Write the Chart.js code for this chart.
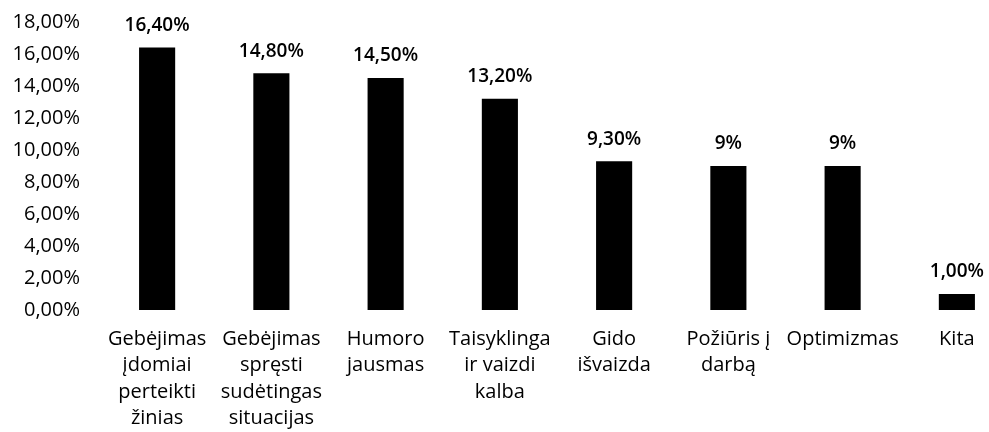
<!DOCTYPE html>
<html>
<head>
<meta charset="utf-8">
<script src="https://cdn.jsdelivr.net/npm/chart.js@4/dist/chart.umd.min.js"></script>
<style>
  html, body { margin: 0; padding: 0; background: #fff; overflow: hidden; }
  #wrap { width: 1030px; height: 432px; }
</style>
</head>
<body>
<div id="wrap"><canvas id="chart" width="1030" height="432"></canvas></div>
<script>
const categories = [
    ["Gebėjimas", "įdomiai", "perteikti", "žinias"],
    ["Gebėjimas", "spręsti", "sudėtingas", "situacijas"],
    ["Humoro", "jausmas"],
    ["Taisyklinga", "ir vaizdi", "kalba"],
    ["Gido", "išvaizda"],
    ["Požiūris į", "darbą"],
    ["Optimizmas"],
    ["Kita"]
]
const values = [16.4, 14.8, 14.5, 13.2, 9.3, 9, 9, 1]
const valueLabels = ["16,40%", "14,80%", "14,50%", "13,20%", "9,30%", "9%", "9%", "1,00%"]

const FONT = "'Open Sans', sans-serif"

// labels over each bar
const barLabels = {
    id: "barLabels",
    afterDatasetsDraw(chart) {
        const ctx = chart.ctx
        const meta = chart.getDatasetMeta(0)
        ctx.save()
        ctx.font = "600 19px " + FONT
        ctx.fillStyle = "#000"
        ctx.textAlign = "center"
        ctx.textBaseline = "middle"
        meta.data.forEach((bar, i) => {
            ctx.fillText(valueLabels[i], bar.x, bar.y - 22)
        })
        ctx.restore()
    }
}

new Chart(document.getElementById("chart"), {
    type: "bar",
    data: {
        labels: categories,
        datasets: [{
            data: values,
            backgroundColor: "#000",
            borderWidth: 0,
            barPercentage: 0.316,
            categoryPercentage: 1
        }]
    },
    options: {
        responsive: false,
        animation: false,
        layout: { padding: { top: 22, right: 16, left: 0, bottom: 0 } },
        plugins: { legend: { display: false }, tooltip: { enabled: false } },
        scales: {
            y: {
                min: 0, max: 18,
                border: { display: false },
                grid: { display: false, drawTicks: false },
                afterFit: s => {
                    s.width = 100
                    // tick padding would otherwise push the plot down
                    s.paddingTop = 10
                    s.paddingBottom = 10
                },
                ticks: {
                    stepSize: 2,
                    padding: 20,
                    color: "#000",
                    font: { family: FONT, size: 20 },
                    callback: v => v.toFixed(2).replace(".", ",") + "%"
                }
            },
            x: {
                border: { display: false },
                grid: { display: false, drawTicks: false },
                afterFit: s => { s.height = 122 },
                ticks: {
                    padding: 16,
                    maxRotation: 0,
                    autoSkip: false,
                    color: "#000",
                    font: { family: FONT, size: 20, lineHeight: 1.32 }
                }
            }
        }
    },
    plugins: [barLabels]
})
</script>
</body>
</html>
